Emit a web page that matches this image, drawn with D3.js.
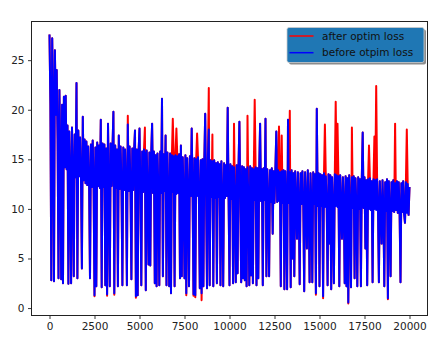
<!DOCTYPE html>
<html>
<head>
<meta charset="utf-8">
<script src="https://cdn.jsdelivr.net/npm/d3@7"></script>
<style>
  body { margin: 0; background: #fff; }
  svg { display: block; font-family: "DejaVu Sans", sans-serif; }
</style>
</head>
<body>
<div id="chart"></div>
<script>
// loss curves, one sample every 50 iterations
const STEP = 50;
const seriesNames = ["after optim loss", "before otpim loss"];
const seriesColors = ["#ff0000", "#0000ff"];

const beforeLoss = [
  27.6,20.6,2.8,27.2,20.4,2.7,26.0,19.5,24.0,17.0,3.0,22.0,15.5,2.9,20.5,2.5,21.3,14.2,21.4,14.0,
  18.4,2.45,17.8,13.4,2.5,18.2,13.6,3.2,17.5,13.2,22.7,3.0,17.9,13.3,17.2,13.0,4.0,19.3,12.9,17.0,
  12.6,16.8,12.4,16.3,12.8,3.0,16.5,12.2,16.9,12.5,1.3,16.2,2.2,16.7,12.3,16.4,12.1,19.0,2.1,16.6,
  12.2,16.5,2.3,16.1,1.4,18.6,12.0,2.2,16.6,12.3,16.2,19.8,1.5,16.4,12.1,16.0,2.2,17.4,12.0,16.3,
  12.1,2.3,16.2,11.9,16.0,12.2,2.3,18.5,11.8,16.3,12.0,2.9,16.1,11.9,15.9,17.9,1.2,16.0,1.3,15.8,
  18.1,11.9,2.3,15.8,11.7,16.0,15.6,1.8,15.9,11.8,4.4,15.7,4.3,15.5,18.6,11.6,15.8,2.5,15.4,2.2,
  15.6,11.7,2.3,15.8,11.6,21.1,3.2,15.5,11.8,17.4,2.3,15.7,11.5,2.2,15.6,1.5,15.4,11.7,15.3,2.2,
  15.4,11.5,15.3,11.6,15.5,3.0,16.4,3.2,15.2,11.4,3.0,15.4,1.5,15.1,11.5,2.2,15.3,11.3,18.1,11.4,
  1.4,15.1,1.3,15.0,11.3,15.2,11.2,2.0,14.9,1.5,15.0,2.2,14.8,19.6,11.2,2.0,15.1,18.0,2.3,14.9,
  11.2,14.8,2.2,14.9,11.1,14.6,2.5,14.7,11.2,14.5,2.3,14.8,11.0,2.2,14.6,11.1,14.4,11.3,20.2,11.0,
  2.3,14.5,11.0,14.3,2.5,14.2,11.1,2.6,14.4,3.5,14.1,18.8,11.0,2.6,14.3,3.0,14.2,2.8,14.0,2.2,
  14.2,11.0,2.3,14.3,3.3,14.1,2.5,14.0,10.9,14.2,2.3,14.1,3.0,13.9,18.6,10.8,14.0,2.3,14.1,10.9,
  19.1,3.2,14.0,10.8,3.2,13.9,10.7,14.1,7.5,13.8,10.6,14.0,17.8,10.7,13.9,10.8,13.7,2.2,13.8,10.6,
  13.9,1.9,13.8,10.5,1.9,19.0,10.6,13.7,2.1,13.9,5.0,13.6,3.2,13.8,10.5,7.0,13.7,10.4,2.4,13.6,
  10.5,13.8,10.4,1.7,13.7,10.6,6.0,13.9,10.3,2.6,13.6,10.4,2.6,13.7,10.5,13.5,1.5,20.1,10.3,13.6,
  2.2,13.5,10.3,13.4,1.2,13.6,10.2,13.3,10.4,2.3,13.5,6.5,13.4,1.9,13.2,10.2,2.5,13.5,10.3,13.4,
  10.2,13.3,2.2,13.4,10.1,7.0,13.2,10.3,2.5,13.3,2.2,13.1,0.55,13.4,10.2,2.1,13.2,10.1,13.3,3.0,
  13.1,10.2,2.2,13.2,10.0,13.0,2.2,13.1,17.7,10.1,13.2,6.0,12.9,2.3,13.0,10.0,13.1,9.9,12.8,2.6,
  13.0,10.0,12.9,9.9,13.0,10.1,2.6,12.8,9.9,6.5,12.9,10.0,2.2,12.7,9.8,13.0,1.0,12.8,9.9,3.2,
  12.7,9.8,12.9,9.7,12.6,9.9,12.8,9.6,12.7,9.8,2.6,12.6,9.7,12.8,9.5,8.6,12.7,9.6,12.5,9.4,
  12.2
];

const afterLoss = [
  27.6,20.6,2.8,27.2,20.4,2.7,26.0,19.5,24.0,17.0,3.0,22.0,15.5,2.9,20.5,2.5,21.3,14.2,21.4,14.0,
  18.4,2.45,17.8,13.4,2.5,18.2,13.6,3.2,17.5,13.2,22.7,3.0,17.9,13.3,17.2,13.0,4.0,19.3,12.9,17.0,
  12.6,16.8,12.4,16.3,12.8,3.0,16.5,12.2,16.9,12.5,1.2,16.2,2.2,16.7,12.3,16.4,12.1,19.0,2.1,16.6,
  12.2,16.5,2.3,16.1,1.25,18.6,12.0,2.2,16.6,12.3,16.2,19.8,1.35,16.4,12.1,16.0,2.2,17.4,12.0,16.3,
  12.1,2.3,16.2,11.9,16.0,12.2,2.3,19.4,11.8,16.3,12.0,2.9,16.1,11.9,15.9,17.9,1.05,16.0,1.3,15.8,
  18.1,11.9,2.3,15.8,11.7,16.0,18.2,1.8,15.9,11.8,4.4,15.7,4.3,15.5,18.6,11.6,15.8,2.5,15.4,2.2,
  15.6,11.7,2.3,15.8,11.6,21.1,3.2,15.5,11.8,17.4,2.3,15.7,11.5,2.2,15.6,1.5,15.4,19.1,15.3,2.2,
  15.4,18.1,15.3,11.6,15.5,3.0,16.4,3.2,15.2,11.4,3.0,15.4,1.3,15.1,11.5,2.2,15.3,11.3,18.1,11.4,
  1.25,15.1,1.1,15.0,17.6,15.2,11.2,2.0,14.9,0.8,15.0,2.2,14.8,19.6,11.2,2.0,15.1,22.2,2.3,14.9,
  11.2,17.5,2.2,14.9,11.1,14.6,2.5,14.7,11.2,14.5,2.3,14.8,11.0,2.2,14.6,11.1,14.4,11.3,20.2,11.0,
  2.3,14.5,11.0,14.3,2.5,18.6,11.1,2.6,14.4,3.5,14.1,18.8,11.0,2.6,14.3,3.0,14.2,2.8,14.0,2.2,
  19.4,11.0,2.3,14.3,3.3,14.1,2.5,14.0,21.0,14.2,2.3,14.1,3.0,13.9,18.6,10.8,14.0,2.3,14.1,10.9,
  19.1,3.2,14.0,10.8,3.2,13.9,10.7,14.1,7.5,13.8,10.6,14.0,17.8,10.7,13.9,18.3,13.7,2.2,17.4,10.6,
  13.9,1.9,13.8,10.5,1.9,19.0,10.6,19.9,2.1,13.9,5.0,13.6,3.2,13.8,10.5,7.0,13.7,10.4,2.4,13.6,
  10.5,13.8,10.4,1.7,13.7,10.6,6.0,13.9,10.3,2.6,13.6,10.4,2.6,13.7,10.5,13.5,1.35,20.1,10.3,13.6,
  2.2,13.5,10.3,13.4,1.0,13.6,18.5,13.3,10.4,2.3,13.5,6.5,13.4,1.9,13.2,10.2,2.5,13.5,20.8,13.4,
  18.6,13.3,2.2,13.4,10.1,7.0,13.2,10.3,2.5,13.3,2.2,13.1,0.45,13.4,10.2,2.1,18.2,10.1,13.3,3.0,
  13.1,10.2,2.2,13.2,10.0,13.0,2.2,13.1,17.7,10.1,13.2,6.0,12.9,2.3,13.0,16.4,13.1,9.9,12.8,2.6,
  13.0,17.3,12.9,22.4,13.0,10.1,2.6,12.8,9.9,6.5,12.9,10.0,2.2,12.7,9.8,13.0,0.9,12.8,9.9,3.2,
  12.7,9.8,12.9,9.7,18.6,9.9,12.8,9.6,12.7,9.8,2.6,12.6,9.7,12.8,9.5,8.6,12.7,18.0,12.5,9.4,
  12.2
];

const xTicks = [0, 2500, 5000, 7500, 10000, 12500, 15000, 17500, 20000];
const yTicks = [0, 5, 10, 15, 20, 25];

const W = 446, H = 351;
const m = { top: 21.5, right: 18.5, bottom: 35.5, left: 31.5 };

const svg = d3.select("#chart").append("svg").attr("width", W).attr("height", H);

const x = d3.scaleLinear().domain([-1000, 21000]).range([m.left, W - m.right]);
const y = d3.scaleLinear().domain([-0.75, 28.9]).range([H - m.bottom, m.top]);

// Linien (rot zuerst, blau darüber)
const line = d3.line().x((d, i) => x(i * STEP)).y(d => y(d));

[afterLoss, beforeLoss].forEach((vals, k) => {
  svg.append("path")
    .datum(vals)
    .attr("fill", "none")
    .attr("stroke", seriesColors[k])
    .attr("stroke-width", 2)
    .attr("stroke-linejoin", "round")
    .attr("d", line);
});

// Achsen
const xAxis = svg.append("g")
  .attr("transform", `translate(0,${H - m.bottom})`)
  .call(d3.axisBottom(x).tickValues(xTicks).tickSize(3.5).tickPadding(3.5).tickFormat(d3.format("d")));

const yAxis = svg.append("g")
  .attr("transform", `translate(${m.left},0)`)
  .call(d3.axisLeft(y).tickValues(yTicks).tickSize(3.5).tickPadding(3.5));

[xAxis, yAxis].forEach(a => {
  a.select(".domain").remove();
  a.selectAll("line").attr("stroke", "#222").attr("stroke-width", 0.9);
  a.selectAll("text").attr("fill", "#222").style("font-size", "10.5px").style("font-family", "DejaVu Sans");
});

// Rahmen
svg.append("rect")
  .attr("x", m.left).attr("y", m.top)
  .attr("width", W - m.left - m.right).attr("height", H - m.top - m.bottom)
  .attr("fill", "none").attr("stroke", "#222").attr("stroke-width", 1);

// Legende
const lg = svg.append("g").attr("transform", "translate(287,27.5)");
lg.append("rect")
  .attr("x", 2).attr("y", 2).attr("width", 137).attr("height", 35).attr("rx", 2)
  .attr("fill", "#000").attr("opacity", 0.45);
lg.append("rect")
  .attr("width", 137).attr("height", 35).attr("rx", 2)
  .attr("fill", "#1f77b4").attr("stroke", "#cccccc").attr("stroke-width", 0.8);

seriesNames.forEach((name, k) => {
  const cy = 8.5 + k * 16.7;
  lg.append("line")
    .attr("x1", 2.5).attr("x2", 26.5).attr("y1", cy).attr("y2", cy)
    .attr("stroke", seriesColors[k]).attr("stroke-width", 1.5);
  lg.append("text")
    .attr("x", 35).attr("y", cy).attr("dy", "0.36em")
    .attr("fill", "#111").style("font-size", "10.5px")
    .text(name);
});
</script>
</body>
</html>
